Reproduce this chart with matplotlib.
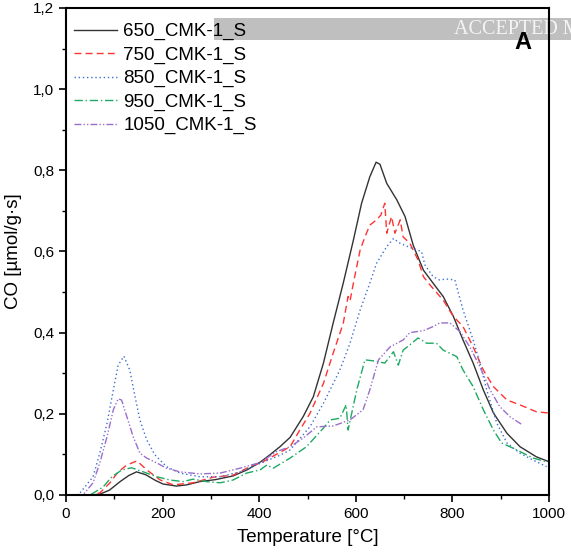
import matplotlib
matplotlib.use("Agg")
import matplotlib.pyplot as plt
from matplotlib.ticker import MultipleLocator, FuncFormatter
from matplotlib.patches import Rectangle

plt.rcParams['font.family'] = ['Liberation Sans', 'DejaVu Sans']

# ---- data ----
t_650 = [20, 50, 70, 90, 112, 130, 146, 165, 185, 201, 229, 250, 277, 310, 346, 375, 402, 420, 443, 464, 491,
         512, 533, 553, 574, 595, 612, 629, 642, 650, 664, 685, 702, 719, 740, 760, 781, 802, 822, 843, 864,
         885, 913, 940, 974, 1000]
co_650 = [0, 0, 0.002, 0.012, 0.033, 0.048, 0.057, 0.050, 0.036, 0.027, 0.022, 0.025, 0.033, 0.038, 0.047,
          0.062, 0.081, 0.097, 0.119, 0.142, 0.193, 0.242, 0.325, 0.423, 0.522, 0.628, 0.719, 0.784, 0.820,
          0.815, 0.768, 0.727, 0.686, 0.615, 0.554, 0.522, 0.489, 0.440, 0.382, 0.325, 0.259, 0.202, 0.152,
          0.119, 0.094, 0.082]

t_750 = [20, 50, 70, 91, 108, 126, 147, 167, 195, 222, 263, 305, 346, 388, 402, 443, 464, 484, 505, 533, 553,
         574, 584, 588, 595, 609, 619, 629, 643, 652, 660, 664, 674, 681, 692, 698, 712, 729, 740, 754,
         781, 802, 822, 843, 864, 885, 913, 940, 974, 1000]
co_750 = [0, 0, 0.005, 0.030, 0.057, 0.074, 0.084, 0.062, 0.037, 0.025, 0.030, 0.044, 0.049, 0.074, 0.078,
          0.105, 0.119, 0.160, 0.201, 0.275, 0.349, 0.423, 0.489, 0.478, 0.522, 0.604, 0.636, 0.665, 0.678,
          0.690, 0.719, 0.645, 0.686, 0.645, 0.678, 0.636, 0.620, 0.579, 0.538, 0.517, 0.480, 0.440,
          0.415, 0.365, 0.308, 0.267, 0.234, 0.222, 0.205, 0.202]

t_850 = [22, 29, 56, 70, 85, 98, 108, 120, 132, 143, 153, 167, 184, 208, 236, 277, 319, 360, 402, 443, 464,
         505, 533, 567, 588, 609, 629, 643, 664, 678, 692, 712, 736, 743, 760, 773, 788, 805, 822, 843,
         857, 871, 892, 913, 940, 967, 995]
co_850 = [0, 0.005, 0.045, 0.103, 0.177, 0.259, 0.320, 0.342, 0.308, 0.242, 0.185, 0.136, 0.099, 0.070, 0.054,
          0.045, 0.045, 0.057, 0.078, 0.098, 0.111, 0.168, 0.226, 0.308, 0.374, 0.456, 0.522, 0.571, 0.612,
          0.632, 0.620, 0.610, 0.600, 0.567, 0.538, 0.530, 0.532, 0.530, 0.456, 0.382, 0.325, 0.259,
          0.177, 0.128, 0.103, 0.086, 0.070]

t_950 = [20, 50, 77, 95, 116, 136, 160, 188, 215, 242, 263, 291, 319, 346, 374, 402, 416, 429, 464, 498, 533,
         547, 567, 580, 584, 602, 619, 640, 660, 678, 688, 698, 712, 729, 747, 767, 781, 809,
         822, 843, 864, 885, 902, 919, 940, 967, 995]
co_950 = [0, 0, 0.020, 0.045, 0.062, 0.067, 0.057, 0.045, 0.037, 0.033, 0.039, 0.033, 0.030, 0.037, 0.054,
          0.062, 0.074, 0.066, 0.091, 0.119, 0.165, 0.185, 0.189, 0.222, 0.160, 0.259, 0.333, 0.330, 0.325,
          0.353, 0.320, 0.357, 0.370, 0.387, 0.374, 0.374, 0.357, 0.341, 0.308, 0.267,
          0.210, 0.160, 0.128, 0.119, 0.107, 0.091, 0.082]

t_1050 = [20, 35, 56, 70, 85, 98, 108, 115, 126, 139, 153, 167, 188, 208, 236, 277, 319, 360, 402, 436, 464,
          491, 519, 553, 588, 615, 629, 647, 671, 698, 712, 740, 760, 774, 795, 816, 836, 857, 878,
          898, 919, 946]
co_1050 = [0, 0, 0.030, 0.079, 0.144, 0.210, 0.237, 0.234, 0.193, 0.144, 0.103, 0.091, 0.079, 0.066, 0.057,
           0.052, 0.054, 0.066, 0.080, 0.107, 0.119, 0.140, 0.168, 0.170, 0.185, 0.210, 0.259, 0.333, 0.365,
           0.382, 0.400, 0.405, 0.415, 0.424, 0.424, 0.402, 0.365, 0.316, 0.259, 0.218, 0.193, 0.172]

labels = ['650_CMK-1_S', '750_CMK-1_S', '850_CMK-1_S', '950_CMK-1_S', '1050_CMK-1_S']
colors = ['#333333', '#ff3333', '#3b6fd0', '#1daa62', '#9a6fcb']
styles = ['-', (0, (5, 3)), (0, (1, 2)), (0, (6, 2, 1, 2)), (0, (5, 1.5, 1, 1.5, 1, 1.5))]

series = [(t_650, co_650), (t_750, co_750), (t_850, co_850), (t_950, co_950), (t_1050, co_1050)]

fig = plt.figure(figsize=(5.71, 5.57), dpi=100)
ax = fig.add_axes([66 / 571, 1 - 495 / 557, (549 - 66) / 571, (495 - 8) / 557])
ax.patch.set_alpha(0)

# watermark banner behind the axes content
fig.patches.append(Rectangle((214 / 571, 1 - 40 / 557), 1, 22 / 557, transform=fig.transFigure,
                             facecolor='#bfbfbf', edgecolor='none', zorder=-5))
fig.text(454 / 571, 1 - 29 / 557, 'ACCEPTED M', color='#f4f4f4', fontsize=14.5,
         family='Liberation Serif', va='center', ha='left', zorder=-4)

for (t, c), lab, col, ls in zip(series, labels, colors, styles):
    ax.plot(t, c, color=col, linestyle=ls, linewidth=1.0, label=lab)

ax.set_xlim(0, 1000)
ax.set_ylim(0, 1.2)
ax.xaxis.set_major_locator(MultipleLocator(200))
ax.xaxis.set_minor_locator(MultipleLocator(100))
ax.yaxis.set_major_locator(MultipleLocator(0.2))
ax.yaxis.set_minor_locator(MultipleLocator(0.1))
ax.yaxis.set_major_formatter(FuncFormatter(lambda v, p: f"{v:.1f}".replace('.', ',')))
ax.tick_params(which='major', direction='out', length=5, width=1.2, labelsize=11, colors='black')
ax.tick_params(which='minor', direction='out', length=3, width=1.0)
ax.tick_params(top=False, right=False)
for s in ax.spines.values():
    s.set_linewidth(1.5)

ax.set_xlabel('Temperature [°C]', fontsize=13.5, labelpad=6)
ax.set_ylabel('CO [µmol/g·s]', fontsize=13.5, labelpad=8)

leg = ax.legend(loc='upper left', bbox_to_anchor=(-0.015, 1.0), frameon=False, fontsize=13.5,
                handlelength=2.3, handletextpad=0.35, labelspacing=0.33, borderpad=0.3)

ax.text(0.945, 0.93, 'A', transform=ax.transAxes, fontsize=17, fontweight='bold', ha='center', va='center')

fig.savefig('out.png', dpi=100)
